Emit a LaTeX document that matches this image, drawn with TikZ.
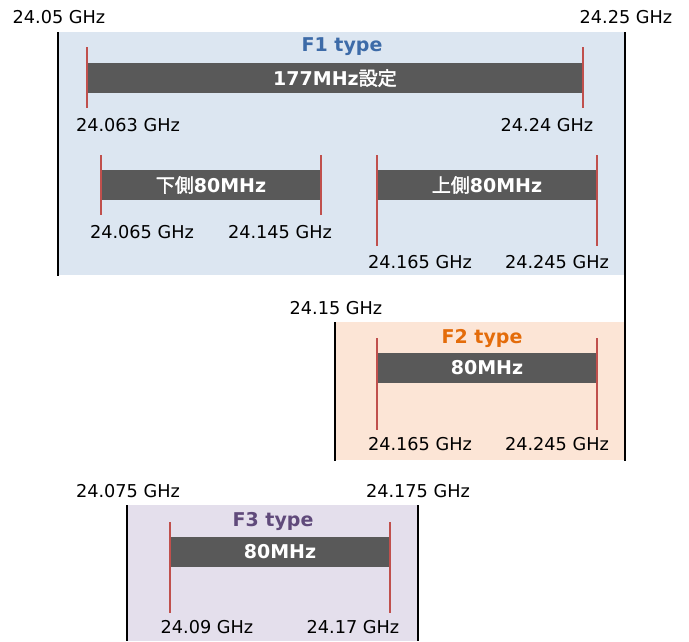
\documentclass[tikz,border=0pt]{standalone}
\usepackage{fontspec}
\setmainfont{DejaVu Sans}
\newfontfamily\jpfont{Noto Sans CJK JP}[AutoFakeBold=2]
\usetikzlibrary{positioning}
\definecolor{bandgray}{RGB}{89,89,89}
\definecolor{tickred}{RGB}{192,80,77}
\definecolor{fonefill}{RGB}{220,230,241}
\definecolor{ftwofill}{RGB}{252,229,214}
\definecolor{fthreefill}{RGB}{228,223,236}
\definecolor{fonetext}{RGB}{61,107,168}
\definecolor{ftwotext}{RGB}{228,108,10}
\definecolor{fthreetext}{RGB}{96,74,123}
\begin{document}
\begin{tikzpicture}[x=1pt,y=-1pt,
 band/.style={fill=bandgray,text=white,inner sep=0pt,minimum height=30pt,font=\fontsize{19}{22}\selectfont\bfseries},
 tick/.style={draw=tickred,line width=1.6pt},
 edge/.style={draw=black,line width=2.6pt},
 freq/.style={inner sep=0pt,font=\fontsize{17.7}{20}\selectfont},
 title/.style={inner sep=0pt,font=\fontsize{19}{22}\selectfont\bfseries}]
\useasboundingbox (0,0) rectangle (689,641);
% F1 type
\fill[fonefill] (58,32) rectangle (625,275);
\draw[edge] (58,32) -- (58,276);
\draw[edge] (625,32) -- (625,461);
\node[freq] (f1lo) at (59,17) {24.05 GHz};
\node[freq] (f1hi) at (626,17) {24.25 GHz};
\node[title,text=fonetext] (t1) at (342,47) {F1 type};
\node[band,minimum width=496pt] (b1) at (335,78) {177MHz{\jpfont 設定}};
\draw[tick] (87,47) -- (87,108);
\draw[tick] (583,47) -- (583,108);
\node[freq] (l1) at (128,125) {24.063 GHz};
\node[freq] (r1) at (547,125) {24.24 GHz};
\node[band,minimum width=220pt] (b1a) at (211,185) {{\jpfont 下側}80MHz};
\draw[tick] (101,155) -- (101,215);
\draw[tick] (321,155) -- (321,215);
\node[freq] (l1a) at (142,232) {24.065 GHz};
\node[freq] (r1a) at (280,232) {24.145 GHz};
\node[band,minimum width=220pt] (b1b) at (487,185) {{\jpfont 上側}80MHz};
\draw[tick] (377,155) -- (377,246);
\draw[tick] (597,155) -- (597,246);
\node[freq] (l1b) at (420,262) {24.165 GHz};
\node[freq] (r1b) at (557,262) {24.245 GHz};
% F2 type
\fill[ftwofill] (335,322) rectangle (624,460);
\draw[edge] (335,322) -- (335,461);
\node[freq] (f2lo) at (336,308) {24.15 GHz};
\node[title,text=ftwotext] (t2) at (482,338) {F2 type};
\node[band,minimum width=220pt] (b2) at (487,368) {80MHz};
\draw[tick] (377,338) -- (377,430);
\draw[tick] (597,338) -- (597,430);
\node[freq] (l2) at (420,444) {24.165 GHz};
\node[freq] (r2) at (557,444) {24.245 GHz};
% F3 type
\fill[fthreefill] (127,505) rectangle (418,641);
\draw[edge] (127,505) -- (127,641);
\draw[edge] (418,505) -- (418,641);
\node[freq] (f3lo) at (128,491) {24.075 GHz};
\node[freq] (f3hi) at (418,491) {24.175 GHz};
\node[title,text=fthreetext] (t3) at (273,521) {F3 type};
\node[band,minimum width=220pt] (b3) at (280,552) {80MHz};
\draw[tick] (170,522) -- (170,613);
\draw[tick] (390,522) -- (390,613);
\node[freq] (l3) at (207,627) {24.09 GHz};
\node[freq] (r3) at (353,627) {24.17 GHz};
\end{tikzpicture}
\end{document}
